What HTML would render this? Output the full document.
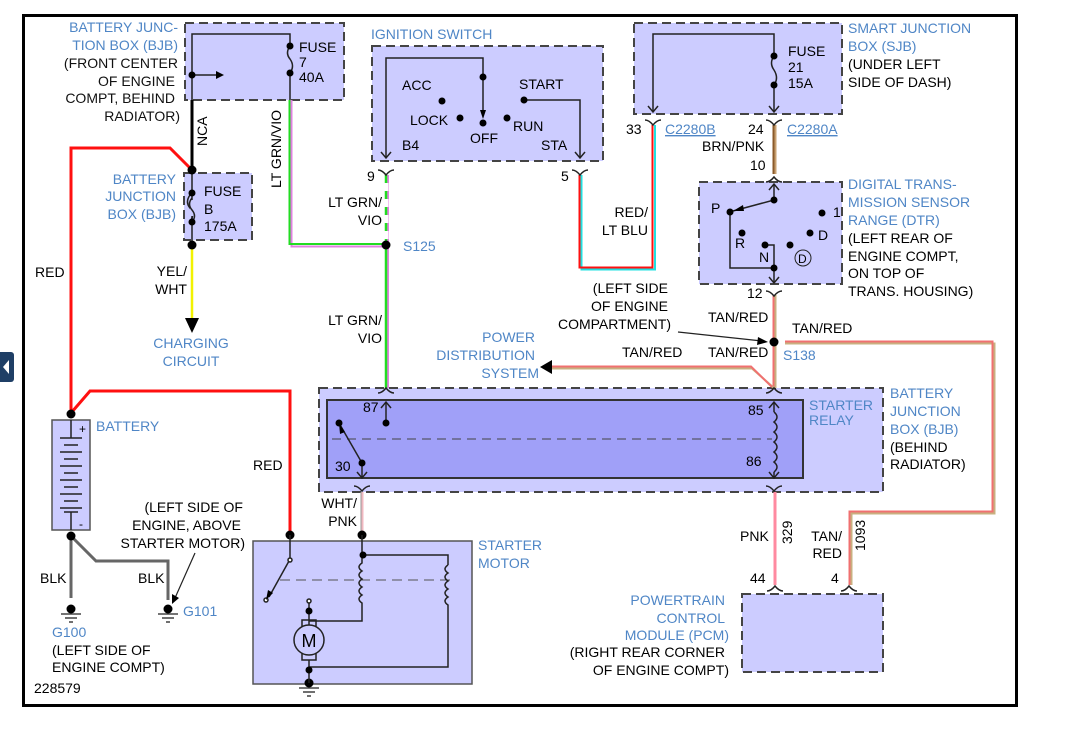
<!DOCTYPE html>
<html><head><meta charset="utf-8"><style>
html,body{margin:0;padding:0;background:#fff;}
svg{display:block;font-family:"Liberation Sans",sans-serif;font-size:14px;}
.b{fill:#4f86c6;}
.k{fill:#111;}
.box{fill:#ccccff;stroke:#444;stroke-width:2;stroke-dasharray:9,5;}
.ln{stroke:#222;stroke-width:1.5;fill:none;}
.r{text-anchor:end;}
.m{text-anchor:middle;}
</style></head><body>
<svg width="1076" height="732" viewBox="0 0 1076 732" xmlns="http://www.w3.org/2000/svg">
<rect x="0" y="0" width="1076" height="732" fill="#fff"/>
<rect x="23.5" y="15.5" width="993" height="690" fill="none" stroke="#000" stroke-width="3"/>
<rect x="-4" y="352" width="18" height="30" rx="3" fill="#1f3f66"/>
<path d="M9,360 L3,367 L9,374Z" fill="#fff"/>

<!-- boxes -->
<rect class="box" x="185" y="23" width="159" height="77"/>
<rect class="box" x="184" y="173" width="68" height="67"/>
<rect class="box" x="372" y="46" width="231" height="115"/>
<rect class="box" x="634" y="23" width="208" height="91"/>
<rect class="box" x="699" y="182" width="143" height="102"/>
<rect class="box" x="319" y="388" width="564" height="104"/>
<rect class="box" x="742" y="594" width="141" height="78"/>
<rect x="327" y="400" width="476" height="78" fill="#a0a0f8" stroke="#333" stroke-width="2"/>
<line x1="332" y1="439" x2="772" y2="439" stroke="#444" stroke-dasharray="9,6"/>
<rect x="52" y="420" width="38" height="110" fill="#ccccff" stroke="#555" stroke-width="1.5"/>
<rect x="253" y="541" width="219" height="143" fill="#ccccff" stroke="#555" stroke-width="1.5"/>

<!-- wires -->
<g fill="none" stroke-linejoin="miter">
<polyline points="192,170 170,148 71,148 71,413" stroke="#ff1010" stroke-width="3"/>
<polyline points="71,413 90,391 290,391 290,535" stroke="#ff1010" stroke-width="3"/>
<line x1="192" y1="100" x2="192" y2="170" stroke="#000" stroke-width="3"/>
<line x1="192" y1="245" x2="192" y2="318" stroke="#f2f200" stroke-width="2.5"/>
<polyline points="291.5,100 291.5,246.5 385,246.5" stroke="#e080e0" stroke-width="2"/>
<polyline points="289.5,100 289.5,244 385,244" stroke="#22dd22" stroke-width="2"/>
<line x1="388" y1="175" x2="388" y2="388" stroke="#e080e0" stroke-width="2"/>
<line x1="386" y1="175" x2="386" y2="388" stroke="#22dd22" stroke-width="2.5"/>
<line x1="386" y1="175" x2="386" y2="240" stroke="#fff" stroke-width="5" stroke-dasharray="0,8,8,0"/>
<polyline points="581.5,175 581.5,269.5 655,269.5 655,125" stroke="#20e0e0" stroke-width="2"/>
<polyline points="579.5,175 579.5,267.5 652.5,267.5 652.5,125" stroke="#ff1010" stroke-width="2"/>
<line x1="775.5" y1="125" x2="775.5" y2="174" stroke="#c8a070" stroke-width="2"/>
<line x1="773.5" y1="125" x2="773.5" y2="174" stroke="#8a5a2a" stroke-width="2"/>
<line x1="775.5" y1="295" x2="775.5" y2="388" stroke="#c8b080" stroke-width="2"/>
<line x1="773.5" y1="295" x2="773.5" y2="388" stroke="#f07070" stroke-width="2"/>
<polyline points="785,343.5 994.5,343.5 994.5,513.5 851.5,513.5 851.5,585" stroke="#c8b080" stroke-width="2"/>
<polyline points="785,341.5 992.5,341.5 992.5,511.5 849.5,511.5 849.5,585" stroke="#f07070" stroke-width="2"/>
<polyline points="774,388 752,368.5 548,368.5" stroke="#c8b080" stroke-width="2"/>
<polyline points="772,387 751,366.5 548,366.5" stroke="#f07070" stroke-width="2"/>
<line x1="775" y1="492" x2="775" y2="585" stroke="#ff8aa0" stroke-width="3"/>
<line x1="362.5" y1="492" x2="362.5" y2="535" stroke="#f0b8c0" stroke-width="2"/>
<line x1="361" y1="492" x2="361" y2="535" stroke="#999" stroke-width="1"/>
<polyline points="71,536 71,598" stroke="#666" stroke-width="3"/>
<polyline points="71,536 96,561 168,561 168,600" stroke="#666" stroke-width="3"/>
</g>
<path d="M185,318 L199,318 L192,333Z" fill="#000"/>
<path d="M540,367 L552,360 L552,374Z" fill="#000"/>

<!-- connectors -->
<g class="ln" stroke-width="1.3">
<path d="M378,170 q4,0 8,5 q4,-5 8,-5"/>
<path d="M572,170 q4,0 8,5 q4,-5 8,-5"/>
<path d="M645,120 q4,0 8,5 q4,-5 8,-5"/>
<path d="M766,120 q4,0 8,5 q4,-5 8,-5"/>
<path d="M766,182 q4,0 8,-5 q4,5 8,5"/>
<path d="M766,291 q4,0 8,5 q4,-5 8,-5"/>
<path d="M378,393 q4,0 8,-5 q4,5 8,5"/>
<path d="M766,393 q4,0 8,-5 q4,5 8,5"/>
<path d="M354,486 q4,0 8,5 q4,-5 8,-5"/>
<path d="M766,486 q4,0 8,5 q4,-5 8,-5"/>
<path d="M767,591 q4,0 8,-5 q4,5 8,5"/>
<path d="M841,591 q4,0 8,-5 q4,5 8,5"/>
</g>

<!-- BJB top inner -->
<g class="ln">
<polyline points="192,100 192,34 290,34 290,46"/>
<path d="M290,46 q-5,7 0,13 q5,7 0,14"/>
<line x1="290" y1="73" x2="290" y2="100"/>
<line x1="192" y1="75" x2="218" y2="75"/>
<path d="M190,195 q-5,7 0,13 q5,7 0,14"/>
</g>
<path d="M216,71 L224,75 L216,79Z" fill="#000"/>
<line x1="192" y1="173" x2="192" y2="245" stroke="#222" stroke-width="1.5"/>
<rect x="190" y="200" width="6" height="16" fill="#ccccff"/>
<path d="M192,198 q-5,6 0,12 q5,6 0,12" class="ln"/>
<g fill="#000">
<circle cx="290" cy="46" r="3.5"/><circle cx="290" cy="73" r="3.5"/><circle cx="192" cy="75" r="3.5"/>
<circle cx="192" cy="170" r="4.5"/><circle cx="192" cy="193" r="3.5"/><circle cx="192" cy="222" r="3.5"/><circle cx="192" cy="245" r="4.5"/>
<circle cx="386" cy="245" r="4.5"/><circle cx="774" cy="342" r="4.5"/>
<circle cx="71" cy="414" r="4.5"/><circle cx="71" cy="536" r="4.5"/>
<circle cx="290" cy="535" r="4.5"/><circle cx="362" cy="535" r="4.5"/>
</g>

<!-- ignition switch inner -->
<g class="ln">
<polyline points="386,158 386,58 483,58 483,77"/>
<line x1="483" y1="77" x2="483" y2="115"/>
<polyline points="524,100 580,100 580,158"/>
<path d="M381,152 l5,6 l5,-6"/><path d="M575,152 l5,6 l5,-6"/>
</g>
<path d="M480,110 L486,110 L483,119Z" fill="#000"/>
<g fill="#000"><circle cx="483" cy="77" r="3.5"/><circle cx="483" cy="123" r="3.5"/><circle cx="442" cy="101" r="3.5"/><circle cx="460" cy="118" r="3.5"/><circle cx="507" cy="118" r="3.5"/><circle cx="524" cy="100" r="3.5"/></g>

<!-- SJB inner -->
<g class="ln">
<polyline points="653,112 653,34 774,34 774,56"/>
<path d="M774,56 q-5,7 0,14 q5,8 0,15"/>
<line x1="774" y1="85" x2="774" y2="112"/>
<path d="M648,106 l5,6 l5,-6"/><path d="M769,106 l5,6 l5,-6"/>
</g>
<g fill="#000"><circle cx="774" cy="56" r="3.5"/><circle cx="774" cy="85" r="3.5"/></g>

<!-- DTR inner -->
<g class="ln">
<line x1="774" y1="185" x2="774" y2="200"/><path d="M769,190 l5,-6 l5,6"/>
<line x1="774" y1="200" x2="733" y2="211"/>
<polyline points="730,212 730,268 774,268 774,283"/>
<polyline points="765,245 774,245 774,268"/>
<path d="M769,277 l5,6 l5,-6"/>
<circle cx="803" cy="258" r="8" stroke-width="1"/>
</g>
<path d="M733,211 L743,205 L744,211Z" fill="#000"/>
<g fill="#000"><circle cx="774" cy="200" r="3.5"/><circle cx="730" cy="212" r="3.5"/><circle cx="742" cy="233" r="3.5"/><circle cx="765" cy="245" r="3.5"/><circle cx="790" cy="245" r="3.5"/><circle cx="810" cy="233" r="3.5"/><circle cx="822" cy="213" r="3.5"/><circle cx="774" cy="268" r="3.5"/></g>

<!-- relay inner -->
<g class="ln">
<line x1="386" y1="402" x2="386" y2="423"/><path d="M381,408 l5,-6 l5,6"/>
<line x1="339" y1="423" x2="362" y2="463"/>
<line x1="362" y1="463" x2="362" y2="478"/><path d="M357,472 l5,6 l5,-6"/>
<line x1="774" y1="402" x2="774" y2="412"/><path d="M769,408 l5,-6 l5,6"/>
<path d="M774,412 q6,5 0,10 q6,5 0,10 q6,5 0,10 q6,5 0,10 q6,5 0,10 q6,5 0,10"/>
<line x1="774" y1="472" x2="774" y2="478"/><path d="M769,472 l5,6 l5,-6"/>
</g>
<path d="M339,423 L345,432 L340,434Z" fill="#000"/>
<g fill="#000"><circle cx="386" cy="423" r="3.5"/><circle cx="339" cy="423" r="3.5"/><circle cx="362" cy="463" r="3.5"/></g>

<!-- battery -->
<g stroke="#222" stroke-width="1.5">
<line x1="71" y1="420" x2="71" y2="438"/><line x1="60" y1="438" x2="82" y2="438"/>
<line x1="64" y1="445" x2="78" y2="445"/><line x1="60" y1="452" x2="82" y2="452"/>
<line x1="64" y1="459" x2="78" y2="459"/><line x1="60" y1="466" x2="82" y2="466"/>
<line x1="64" y1="473" x2="78" y2="473"/><line x1="60" y1="480" x2="82" y2="480"/>
<line x1="64" y1="487" x2="78" y2="487"/><line x1="60" y1="494" x2="82" y2="494"/>
<line x1="64" y1="501" x2="78" y2="501"/><line x1="60" y1="508" x2="82" y2="508"/>
<line x1="64" y1="512" x2="78" y2="512"/><line x1="71" y1="512" x2="71" y2="530"/>
</g>
<text x="79" y="433" font-size="12">+</text><text x="79" y="528" font-size="12">-</text>

<!-- grounds -->
<g fill="#000"><circle cx="71" cy="609" r="4.5"/><circle cx="168" cy="609" r="4.5"/><circle cx="309" cy="683" r="4.5"/></g>
<g stroke="#222" stroke-width="1.3">
<line x1="61" y1="614" x2="81" y2="614"/><line x1="65" y1="618" x2="77" y2="618"/><line x1="69" y1="622" x2="73" y2="622"/>
<line x1="158" y1="614" x2="178" y2="614"/><line x1="162" y1="618" x2="174" y2="618"/><line x1="166" y1="622" x2="170" y2="622"/>
<line x1="299" y1="688" x2="319" y2="688"/><line x1="303" y1="692" x2="315" y2="692"/><line x1="307" y1="696" x2="311" y2="696"/>
</g>
<line x1="195" y1="553" x2="175" y2="598" stroke="#222" stroke-width="1.2"/>
<path d="M172,604 L172,594 L179,598Z" fill="#000"/>

<!-- starter motor inner -->
<g class="ln">
<line x1="290" y1="535" x2="290" y2="558"/><circle cx="290" cy="560" r="2" fill="#fff"/>
<line x1="289" y1="561" x2="269" y2="597"/><circle cx="266" cy="600" r="2" fill="#fff"/>
<line x1="280" y1="580" x2="450" y2="580" stroke-dasharray="10,6" stroke-width="1" stroke="#555"/>
<line x1="362" y1="535" x2="362" y2="555"/>
<polyline points="362,555 448,555 448,565"/>
<path d="M362,555 l0,8 q-6,4 0,8 q-6,4 0,8 q-6,4 0,8 q-6,4 0,8 q-6,4 0,8 l0,18 l-53,0"/>
<path d="M448,565 q-6,4 0,8 q-6,4 0,8 q-6,4 0,8 q-6,4 0,8 q-6,4 0,8 l0,62 l-139,0"/>
<line x1="309" y1="603" x2="309" y2="625"/><circle cx="309" cy="601" r="2" fill="#fff"/>
<rect x="302" y="620" width="14" height="40" fill="none"/>
<circle cx="309" cy="640" r="15" fill="#ccccff"/>
<line x1="309" y1="660" x2="309" y2="683"/>
</g>
<path d="M266,600 L268,590 L273,593Z" fill="#000"/>
<g fill="#000"><circle cx="363" cy="555" r="3.5"/><circle cx="309" cy="611" r="3.5"/><circle cx="309" cy="670" r="3.5"/></g>
<text x="309" y="647" class="m" font-size="18">M</text>

<!-- S138 arrow -->
<line x1="678" y1="332" x2="762" y2="341" stroke="#222" stroke-width="1.2"/>
<path d="M768,342 L758,337 L757,345Z" fill="#000"/>

<!-- texts -->
<text class="b r" x="178" y="32">BATTERY JUNC-</text>
<text class="b r" x="178" y="50">TION BOX (BJB)</text>
<text class="k r" x="178" y="68">(FRONT CENTER</text>
<text class="k r" x="175" y="86">OF ENGINE</text>
<text class="k r" x="175" y="103">COMPT, BEHIND</text>
<text class="k r" x="180" y="121">RADIATOR)</text>
<text x="299" y="52">FUSE</text><text x="299" y="67">7</text><text x="299" y="82">40A</text>
<text transform="translate(207,146) rotate(-90)">NCA</text>
<text transform="translate(281,188) rotate(-90)">LT GRN/VIO</text>
<text class="b r" x="176" y="184">BATTERY</text>
<text class="b r" x="176" y="201">JUNCTION</text>
<text class="b r" x="176" y="219">BOX (BJB)</text>
<text x="204" y="196">FUSE</text><text x="204" y="214">B</text><text x="204" y="231">175A</text>
<text x="35" y="277">RED</text>
<text class="r" x="187" y="276">YEL/</text><text class="r" x="187" y="294">WHT</text>
<text class="b m" x="191" y="348">CHARGING</text><text class="b m" x="191" y="366">CIRCUIT</text>
<text class="b" x="96" y="431">BATTERY</text>
<text x="253" y="470">RED</text>
<text class="r" x="243" y="512">(LEFT SIDE OF</text>
<text class="r" x="241" y="530">ENGINE, ABOVE</text>
<text class="r" x="245" y="548">STARTER MOTOR)</text>
<text x="40" y="583">BLK</text><text x="138" y="583">BLK</text>
<text class="b" x="183" y="616">G101</text>
<text class="b" x="52" y="637">G100</text>
<text x="52" y="655">(LEFT SIDE OF</text>
<text x="52" y="672">ENGINE COMPT)</text>
<text x="34" y="693">228579</text>
<text class="b" x="478" y="550">STARTER</text><text class="b" x="478" y="568">MOTOR</text>
<text class="r" x="357" y="508">WHT/</text><text class="r" x="357" y="526">PNK</text>

<text class="b" x="371" y="39">IGNITION SWITCH</text>
<text x="402" y="90">ACC</text><text x="410" y="125">LOCK</text><text x="470" y="143">OFF</text>
<text x="513" y="131">RUN</text><text x="519" y="89">START</text><text x="402" y="150">B4</text><text x="541" y="150">STA</text>
<text x="367" y="181">9</text><text x="561" y="181">5</text>
<text class="r" x="382" y="207">LT GRN/</text><text class="r" x="382" y="225">VIO</text>
<text class="b" x="403" y="251">S125</text>
<text class="r" x="382" y="325">LT GRN/</text><text class="r" x="382" y="343">VIO</text>
<text class="r" x="648" y="217">RED/</text><text class="r" x="648" y="235">LT BLU</text>

<text x="788" y="56">FUSE</text><text x="788" y="72">21</text><text x="788" y="88">15A</text>
<text class="b" x="848" y="33">SMART JUNCTION</text>
<text class="b" x="848" y="51">BOX (SJB)</text>
<text x="848" y="69">(UNDER LEFT</text>
<text x="848" y="87">SIDE OF DASH)</text>
<text x="626" y="134">33</text>
<text class="b" x="665" y="134" text-decoration="underline">C2280B</text>
<text x="748" y="134">24</text>
<text class="b" x="787" y="134" text-decoration="underline">C2280A</text>
<text x="702" y="151">BRN/PNK</text>
<text x="750" y="170">10</text>
<text class="b" x="848" y="189">DIGITAL TRANS-</text>
<text class="b" x="848" y="207">MISSION SENSOR</text>
<text class="b" x="848" y="225">RANGE (DTR)</text>
<text x="848" y="243">(LEFT REAR OF</text>
<text x="848" y="261">ENGINE COMPT,</text>
<text x="848" y="278">ON TOP OF</text>
<text x="848" y="296">TRANS. HOUSING)</text>
<text x="711" y="213">P</text><text x="833" y="217">1</text><text x="735" y="248">R</text>
<text x="818" y="240">D</text><text x="759" y="262">N</text>
<text x="798" y="263" font-size="12">D</text>
<text x="747" y="298">12</text>
<text class="r" x="668" y="293">(LEFT SIDE</text>
<text class="r" x="668" y="311">OF ENGINE</text>
<text class="r" x="671" y="329">COMPARTMENT)</text>
<text x="708" y="322">TAN/RED</text>
<text x="708" y="357">TAN/RED</text>
<text x="792" y="333">TAN/RED</text>
<text x="622" y="357">TAN/RED</text>
<text class="b" x="783" y="360">S138</text>
<text class="b r" x="535" y="342">POWER</text>
<text class="b r" x="535" y="360">DISTRIBUTION</text>
<text class="b r" x="539" y="378">SYSTEM</text>

<text x="363" y="412">87</text><text x="335" y="471">30</text>
<text x="748" y="415">85</text><text x="746" y="466">86</text>
<text class="b" x="809" y="410">STARTER</text><text class="b" x="809" y="425">RELAY</text>
<text class="b" x="890" y="398">BATTERY</text>
<text class="b" x="890" y="416">JUNCTION</text>
<text class="b" x="890" y="434">BOX (BJB)</text>
<text x="890" y="452">(BEHIND</text>
<text x="890" y="469">RADIATOR)</text>

<text x="740" y="541">PNK</text>
<text transform="translate(792,544) rotate(-90)">329</text>
<text class="r" x="842" y="541">TAN/</text><text class="r" x="842" y="558">RED</text>
<text transform="translate(865,551) rotate(-90)">1093</text>
<text x="750" y="583">44</text><text x="831" y="583">4</text>
<text class="b r" x="725" y="605">POWERTRAIN</text>
<text class="b r" x="725" y="623">CONTROL</text>
<text class="b r" x="729" y="640">MODULE (PCM)</text>
<text class="r" x="725" y="657">(RIGHT REAR CORNER</text>
<text class="r" x="729" y="675">OF ENGINE COMPT)</text>
</svg>
</body></html>
